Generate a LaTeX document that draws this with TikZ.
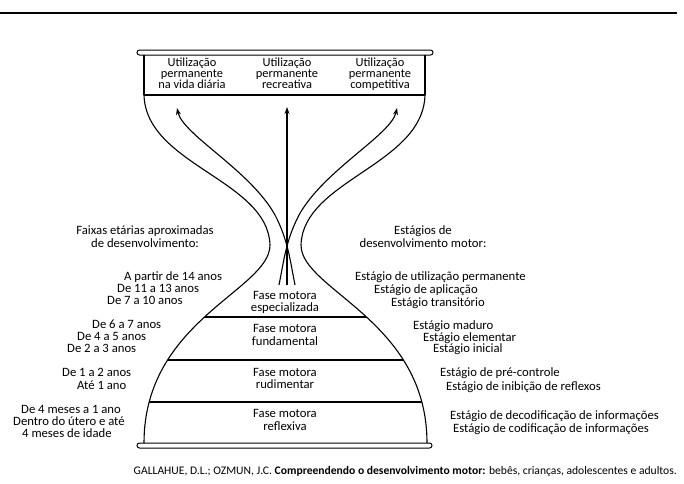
\documentclass[tikz,border=0pt]{standalone}
\usepackage{fontspec}
\setmainfont{Carlito}
\usetikzlibrary{arrows.meta}
\begin{document}
\begin{tikzpicture}[x=1pt,y=-1pt,
  txt/.style={inner sep=0pt, text height=7pt, text depth=2pt, font=\fontsize{12.7}{12}\selectfont},
  boxtxt/.style={txt, font=\fontsize{12.4}{12}\selectfont},
  capt/.style={inner sep=0pt, text height=7pt, text depth=2pt, font=\fontsize{11.6}{12}\selectfont},
  curve/.style={line width=1.1pt},
  sep/.style={line width=1.4pt},
  rim/.style={line width=1pt, rounded corners=2.5pt},
  arr/.style={line width=1.1pt, -{Stealth[length=7pt,width=5pt]}}]
\useasboundingbox (0,0) rectangle (684,483);
% top rule
\draw[line width=1.8pt] (0,13) -- (677,13);
% rims
\draw[rim] (137,50) rectangle (433,55);
\draw[rim] (137,443) rectangle (432,448);
% top box
\draw[curve] (144,55) -- (144,95);
\draw[curve] (425,55) -- (425,95);
\draw[sep] (144,95) -- (425,95);
% upper bowl
\draw[curve] (144,95) .. controls (146,165) and (268,180) .. (270,245);
\draw[curve] (425,95) .. controls (423,165) and (303,180) .. (301,245);
% lower bowl
\draw[curve] (270,245) .. controls (270,290) and (144,320) .. (144,443);
\draw[curve] (301,245) .. controls (301,290) and (427,320) .. (427,443);
% phase separators
\begin{scope}
\clip (270,245) .. controls (270,290) and (144,320) .. (144,443) -- (427,443) .. controls (427,320) and (301,290) .. (301,245) -- cycle;
\draw[sep] (100,317) -- (470,317);
\draw[sep] (100,360) -- (470,360);
\draw[sep] (100,402) -- (470,402);
\end{scope}
% arrows
\coordinate (la0) at (295,285);
\coordinate (la1) at (177,108);
\coordinate (ra0) at (279,285);
\coordinate (ra1) at (397,108);
\coordinate (ca0) at (287,285);
\coordinate (ca1) at (287,107);
\draw[arr] (la0) .. controls (290,260) and (288,240) .. (275,215) .. controls (250,170) and (183,135) .. (la1);
\draw[arr] (ra0) .. controls (284,260) and (286,240) .. (299,215) .. controls (324,170) and (391,135) .. (ra1);
\draw[arr] (ca0) -- (ca1);
% top box texts
\node[boxtxt] (u1a) at (192,64) {Utilização};
\node[boxtxt] (u1b) at (192,75) {permanente};
\node[boxtxt] (u1c) at (192,86) {na vida diária};
\node[boxtxt] (u2a) at (287,64) {Utilização};
\node[boxtxt] (u2b) at (287,75) {permanente};
\node[boxtxt] (u2c) at (287,86) {recreativa};
\node[boxtxt] (u3a) at (380,64) {Utilização};
\node[boxtxt] (u3b) at (380,75) {permanente};
\node[boxtxt] (u3c) at (380,86) {competitiva};
% phases
\node[txt] (p1a) at (285,297) {Fase motora};
\node[txt] (p1b) at (285,309) {especializada};
\node[txt] (p2a) at (285,330) {Fase motora};
\node[txt] (p2b) at (285,343) {fundamental};
\node[txt] (p3a) at (285,374) {Fase motora};
\node[txt] (p3b) at (285,386) {rudimentar};
\node[txt] (p4a) at (285,415) {Fase motora};
\node[txt] (p4b) at (285,428) {reflexiva};
% left headings
\node[txt] (lh1) at (145,232) {Faixas etárias aproximadas};
\node[txt] (lh2) at (145,244.5) {de desenvolvimento:};
\node[txt,anchor=west] (a1) at (124,278) {A partir de 14 anos};
\node[txt,anchor=west] (a2) at (117,290) {De 11 a 13 anos};
\node[txt,anchor=west] (a3) at (107,302) {De 7 a 10 anos};
\node[txt,anchor=west] (a4) at (92,326) {De 6 a 7 anos};
\node[txt,anchor=west] (a5) at (77,338) {De 4 a 5 anos};
\node[txt,anchor=west] (a6) at (67,350) {De 2 a 3 anos};
\node[txt,anchor=west] (a7) at (62,374) {De 1 a 2 anos};
\node[txt,anchor=west] (a8) at (77,387) {Até 1 ano};
\node[txt,anchor=west] (a9) at (21,411) {De 4 meses a 1 ano};
\node[txt,anchor=west] (a10) at (13,423) {Dentro do útero e até};
\node[txt,anchor=west] (a11) at (22,435) {4 meses de idade};
% right headings
\node[txt] (rh1) at (423,232) {Estágios de};
\node[txt] (rh2) at (423,244.5) {desenvolvimento motor:};
\node[txt,anchor=west] (s1) at (355,278) {Estágio de utilização permanente};
\node[txt,anchor=west] (s2) at (374,291) {Estágio de aplicação};
\node[txt,anchor=west] (s3) at (391,304) {Estágio transitório};
\node[txt,anchor=west] (s4) at (413,327) {Estágio maduro};
\node[txt,anchor=west] (s5) at (423,338.5) {Estágio elementar};
\node[txt,anchor=west] (s6) at (433,350) {Estágio inicial};
\node[txt,anchor=west] (s7) at (440,374) {Estágio de pré-controle};
\node[txt,anchor=west] (s8) at (446,388) {Estágio de inibição de reflexos};
\node[txt,anchor=west] (s9) at (450,417) {Estágio de decodificação de informações};
\node[txt,anchor=west] (s10) at (453,430) {Estágio de codificação de informações};
% caption
\node[capt,anchor=east] (cap) at (677,472) {GALLAHUE, D.L.; OZMUN, J.C. \textbf{Compreendendo o desenvolvimento motor:} bebês, crianças, adolescentes e adultos.};
\end{tikzpicture}
\end{document}
